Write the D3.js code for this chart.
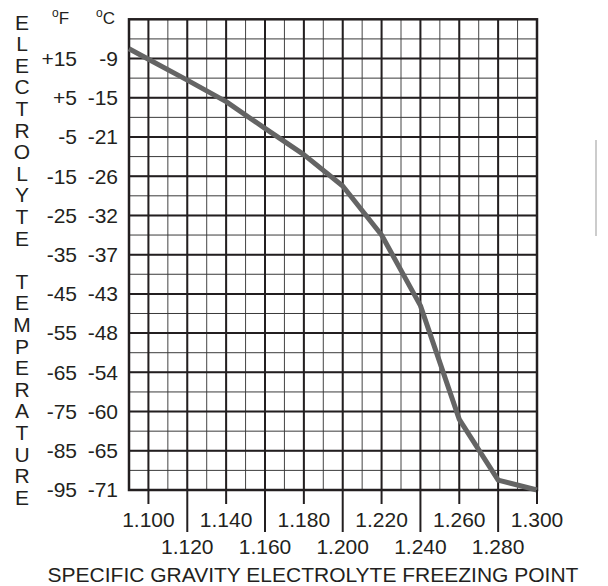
<!DOCTYPE html>
<html>
<head>
<meta charset="utf-8">
<script src="https://cdnjs.cloudflare.com/ajax/libs/d3/7.8.5/d3.min.js"></script>
<style>
  body { margin: 0; background: #fff; }
  text { font-family: "Liberation Sans", Arial, Helvetica, sans-serif; fill: #231f20; }
</style>
</head>
<body>
<div id="chart"></div>
<script>
// specific gravity ticks along the bottom
var sgTicks = [1.100, 1.120, 1.140, 1.160, 1.180, 1.200, 1.220, 1.240, 1.260, 1.280, 1.300];
// temperature labels down the left side
var tempF = [15, 5, -5, -15, -25, -35, -45, -55, -65, -75, -85, -95];
var tempFLabels = ["+15", "+5", "-5", "-15", "-25", "-35", "-45", "-55", "-65", "-75", "-85", "-95"];
var tempC = [-9, -15, -21, -26, -32, -37, -43, -48, -54, -60, -65, -71];
// freezing point curve (sg, deg F)
var curveSG = [1.090, 1.100, 1.120, 1.140, 1.160, 1.180, 1.200, 1.220, 1.240, 1.260, 1.280, 1.300];
var curveF = [17.5, 14.8, 9.5, 4, -2.8, -9.5, -17.5, -30, -48, -77, -92.5, -95];

var yTitle = "ELECTROLYTE TEMPERATURE";
var xTitle = "SPECIFIC GRAVITY ELECTROLYTE FREEZING POINT";

var width = 608, height = 586;
var margin = { left: 129, right: 537, top: 19.3, bottom: 490 };
var fontSize = 21;

var svg = d3.select("#chart").append("svg")
    .attr("width", width)
    .attr("height", height);

var x = d3.scaleLinear().domain([1.09, 1.30]).range([margin.left, margin.right]);
var y = d3.scaleLinear().domain([25, -95]).range([margin.top, margin.bottom]);

var grid = svg.append("g");

// minor grid
grid.selectAll(".vminor")
    .data(x.ticks(21))
    .enter().append("line")
    .attr("x1", d => x(d)).attr("x2", d => x(d))
    .attr("y1", margin.top).attr("y2", margin.bottom)
    .attr("stroke", "#444").attr("stroke-width", 1);

grid.selectAll(".hminor")
    .data(y.ticks(24))
    .enter().append("line")
    .attr("x1", margin.left).attr("x2", margin.right)
    .attr("y1", d => y(d)).attr("y2", d => y(d))
    .attr("stroke", "#3a3a3a").attr("stroke-width", 1);

// major grid
grid.selectAll(".vmajor")
    .data(sgTicks)
    .enter().append("line")
    .attr("x1", d => x(d)).attr("x2", d => x(d))
    .attr("y1", margin.top).attr("y2", margin.bottom)
    .attr("stroke", "#231f20").attr("stroke-width", 2);

grid.selectAll(".hmajor")
    .data(tempF)
    .enter().append("line")
    .attr("x1", margin.left).attr("x2", margin.right)
    .attr("y1", d => y(d)).attr("y2", d => y(d))
    .attr("stroke", "#231f20").attr("stroke-width", 2);

// frame
svg.append("rect")
    .attr("x", margin.left).attr("y", margin.top)
    .attr("width", margin.right - margin.left).attr("height", margin.bottom - margin.top)
    .attr("fill", "none")
    .attr("stroke", "#231f20").attr("stroke-width", 2.5);

// curve
var line = d3.line()
    .x((d, i) => x(curveSG[i]))
    .y(d => y(d));

svg.append("path")
    .datum(curveF)
    .attr("d", line)
    .attr("fill", "none")
    .attr("stroke", "#646464")
    .attr("stroke-width", 5)
    .attr("stroke-linejoin", "round");

// x ticks, staggered in two rows
svg.selectAll(".xtick")
    .data(sgTicks)
    .enter().append("line")
    .attr("x1", d => x(d)).attr("x2", d => x(d))
    .attr("y1", margin.bottom)
    .attr("y2", (d, i) => i % 2 == 0 ? margin.bottom + 14 : margin.bottom + 42)
    .attr("stroke", "#231f20").attr("stroke-width", 2);

svg.selectAll(".xlabel")
    .data(sgTicks)
    .enter().append("text")
    .attr("x", d => x(d))
    .attr("y", (d, i) => i % 2 == 0 ? 527 : 554)
    .attr("text-anchor", "middle")
    .attr("font-size", fontSize)
    .text(d => d3.format(".3f")(d));

svg.append("text")
    .attr("x", 313)
    .attr("y", 582)
    .attr("text-anchor", "middle")
    .attr("font-size", fontSize)
    .text(xTitle);

// y labels
svg.selectAll(".flabel")
    .data(tempF)
    .enter().append("text")
    .attr("x", 77)
    .attr("y", d => y(d))
    .attr("dy", "0.35em")
    .attr("text-anchor", "end")
    .attr("font-size", fontSize)
    .text((d, i) => tempFLabels[i]);

svg.selectAll(".clabel")
    .data(tempC)
    .enter().append("text")
    .attr("x", 118)
    .attr("y", (d, i) => y(tempF[i]))
    .attr("dy", "0.35em")
    .attr("text-anchor", "end")
    .attr("font-size", fontSize)
    .text(d => d);

// unit headers
var units = [{u: "F", x: 61}, {u: "C", x: 105}];
units.forEach(function (h) {
    var t = svg.append("text")
        .attr("x", h.x - 9)
        .attr("y", 24)
        .attr("font-size", 17);
    t.append("tspan").attr("font-size", 12).attr("dy", -7).text("o");
    t.append("tspan").attr("dy", 7).text(h.u);
});

// vertical stacked title
svg.selectAll(".ytitle")
    .data(yTitle.split(""))
    .enter().append("text")
    .attr("x", 22)
    .attr("y", (d, i) => 22 + i * 21.6)
    .attr("dy", "0.36em")
    .attr("text-anchor", "middle")
    .attr("font-size", fontSize)
    .text(d => d);

// stray scan mark at the right edge
svg.append("line")
    .attr("x1", 596).attr("x2", 596)
    .attr("y1", 140).attr("y2", 236)
    .attr("stroke", "#999").attr("stroke-width", 1);
</script>
</body>
</html>
